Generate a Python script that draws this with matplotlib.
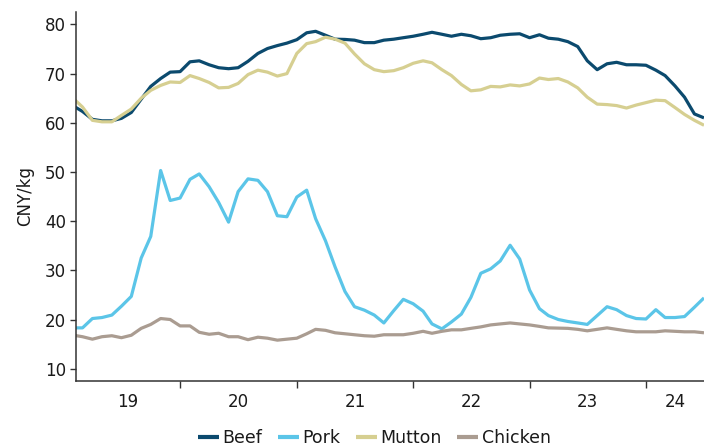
import matplotlib
matplotlib.use("Agg")
import matplotlib.pyplot as plt
import pandas as pd

# Monthly prices, CNY/kg
dates = pd.date_range("2019-02-01", "2024-07-01", freq="MS")

beef = [
    63.4, 62.3, 60.7, 60.4, 60.4, 60.9, 62.1, 64.8, 67.4, 69.0,
    70.3, 70.4, 72.4, 72.6, 71.8, 71.2, 71.0, 71.2, 72.5, 74.1,
    75.1, 75.7, 76.2, 76.9, 78.3, 78.6, 77.8, 77.0, 76.95, 76.8,
    76.3, 76.3, 76.8, 77.0, 77.3, 77.6, 78.0, 78.4, 78.0, 77.6,
    78.0, 77.7, 77.1, 77.3, 77.8, 78.0, 78.1, 77.3, 77.9, 77.2,
    77.0, 76.5, 75.5, 72.6, 70.8, 72.0, 72.3, 71.8, 71.8, 71.7,
    70.7, 69.6, 67.5, 65.2, 61.8, 61.0,
]
pork = [
    18.3, 18.3, 20.2, 20.4, 20.9, 22.7, 24.7, 32.5, 36.9, 50.3,
    44.2, 44.7, 48.5, 49.6, 47.0, 43.8, 39.8, 46.0, 48.6, 48.3,
    46.0, 41.1, 40.9, 44.9, 46.3, 40.5, 36.0, 30.7, 25.7, 22.6,
    21.9, 20.9, 19.3, 21.8, 24.1, 23.2, 21.7, 19.1, 18.1, 19.5,
    21.1, 24.5, 29.4, 30.3, 31.9, 35.1, 32.3, 26.0, 22.2, 20.8,
    20.0, 19.6, 19.3, 19.0, 20.8, 22.6, 22.0, 20.8, 20.2, 20.1,
    22.0, 20.4, 20.4, 20.6, 22.5, 24.4,
]
mutton = [
    64.9, 63.2, 60.5, 60.2, 60.2, 61.5, 62.8, 65.0, 66.6, 67.6,
    68.3, 68.2, 69.6, 69.0, 68.2, 67.1, 67.2, 68.0, 69.8, 70.7,
    70.3, 69.5, 70.0, 74.1, 76.1, 76.5, 77.4, 77.0, 76.2, 74.0,
    72.0, 70.8, 70.4, 70.6, 71.2, 72.1, 72.6, 72.2, 70.8, 69.6,
    67.8, 66.5, 66.7, 67.4, 67.3, 67.7, 67.5, 67.9, 69.1, 68.8,
    69.0, 68.3, 67.1, 65.2, 63.8, 63.7, 63.5, 63.0, 63.6, 64.1,
    64.6, 64.5, 63.1, 61.7, 60.5, 59.5,
]
chicken = [
    16.8, 16.5, 16.0, 16.5, 16.7, 16.3, 16.8, 18.2, 19.0, 20.2,
    20.0, 18.7, 18.7, 17.4, 17.0, 17.2, 16.5, 16.5, 15.9, 16.4,
    16.2, 15.8, 16.0, 16.2, 17.1, 18.0, 17.8, 17.3, 17.1, 16.9,
    16.7, 16.6, 16.9, 16.9, 16.9, 17.2, 17.6, 17.2, 17.6, 17.9,
    17.9, 18.2, 18.5, 18.9, 19.1, 19.3, 19.1, 18.9, 18.6, 18.3,
    18.25, 18.2, 18.0, 17.7, 18.0, 18.3, 18.0, 17.7, 17.5, 17.5,
    17.5, 17.7, 17.6, 17.5, 17.5, 17.3,
]

series_names = ["Beef", "Pork", "Mutton", "Chicken"]
series_colors = ["#0b4a6e", "#5bc5e8", "#d6cf91", "#aa9c91"]
years = [2019, 2020, 2021, 2022, 2023, 2024]
year_labels = ["19", "20", "21", "22", "23", "24"]
y_ticks = [10, 20, 30, 40, 50, 60, 70, 80]

plt.rcParams["font.family"] = ["DejaVu Sans"]

fig = plt.figure(figsize=(7.04, 4.48), dpi=100)
ax = fig.add_axes([0.1077, 0.1496, 0.8923, 0.8244])

for name, vals, col in zip(series_names, [beef, pork, mutton, chicken], series_colors):
    ax.plot(dates, vals, color=col, linewidth=2.3, label=name,
            solid_joinstyle="round", solid_capstyle="butt")

x0 = pd.Timestamp("2019-02-08")
x1 = pd.Timestamp("2024-07-01")
ax.set_xlim(x0, x1)
ax.set_ylim(7.5, 82.6)

# year boundaries get the tick marks, labels sit in the middle of each year
bounds = [pd.Timestamp(f"{y}-01-01") for y in years[1:]]
ax.set_xticks(bounds)
ax.set_xticklabels([])
edges = [x0] + bounds + [x1]
mids = [edges[i] + (edges[i + 1] - edges[i]) / 2 for i in range(len(years))]
ax.set_xticks(mids, minor=True)
ax.set_xticklabels(year_labels, minor=True)
ax.tick_params(axis="x", which="major", length=5, width=1, color="#333333", direction="out")
ax.tick_params(axis="x", which="minor", length=0, pad=9, labelsize=12, labelcolor="#1a1a1a")

ax.set_yticks(y_ticks)
ax.tick_params(axis="y", length=4, width=1, color="#333333", labelsize=12,
               labelcolor="#1a1a1a", pad=3)
ax.set_ylabel("CNY/kg", fontsize=12, color="#1a1a1a", labelpad=8)

for s in ["top", "right"]:
    ax.spines[s].set_visible(False)
for s in ["left", "bottom"]:
    ax.spines[s].set_color("#333333")
    ax.spines[s].set_linewidth(1.1)

leg = fig.legend(loc="center", bbox_to_anchor=(0.532, 0.023), ncol=4, frameon=False,
                 fontsize=12.5, handlelength=1.2, handletextpad=0.2,
                 columnspacing=0.9, borderaxespad=0)
for line in leg.get_lines():
    line.set_linewidth(3)
for t in leg.get_texts():
    t.set_color("#1a1a1a")

fig.savefig("out.png", dpi=100)
